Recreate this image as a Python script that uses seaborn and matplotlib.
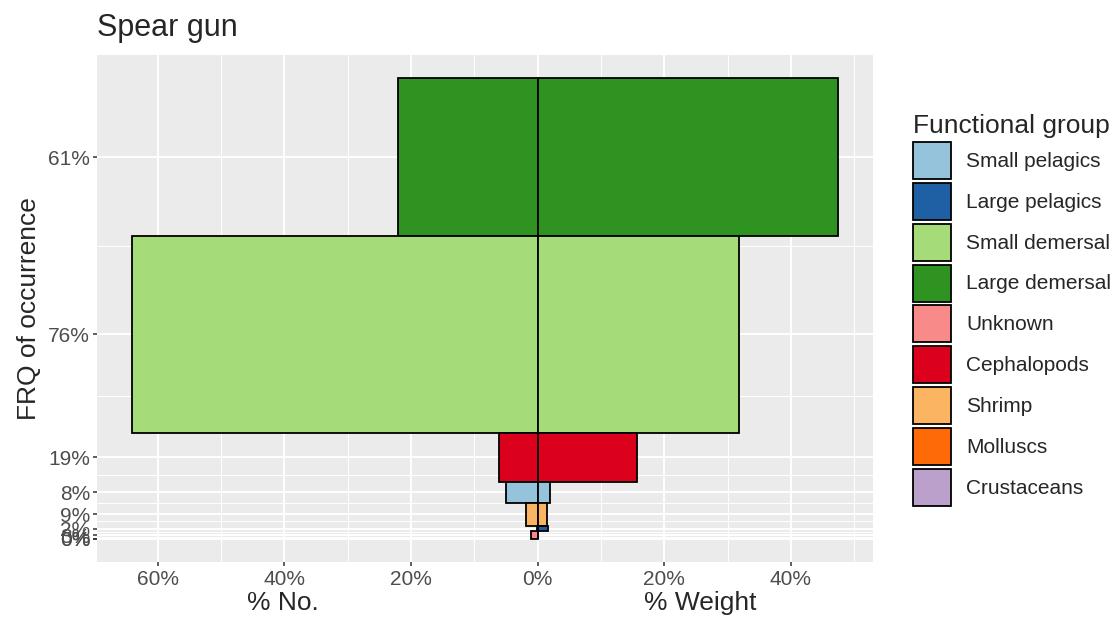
import pandas as pd
import seaborn as sns
import matplotlib
matplotlib.use('Agg')
import matplotlib.pyplot as plt
from matplotlib.patches import Patch

# legend order and colours
groups = ['Small pelagics', 'Large pelagics', 'Small demersal', 'Large demersal',
          'Unknown', 'Cephalopods', 'Shrimp', 'Molluscs', 'Crustaceans']
group_colors = ['#96C3DC', '#1F5FA3', '#A6DB7A', '#2E9321', '#F88A8A',
                '#DB001C', '#FBB462', '#FF6A09', '#BCA0CC']

# bars, top to bottom
bar_group = ['Large demersal', 'Small demersal', 'Cephalopods', 'Small pelagics',
             'Shrimp', 'Large pelagics', 'Unknown', 'Molluscs', 'Crustaceans']
frq = [61, 76, 19, 8, 9, 2, 3, 0, 0]
pct_no = [22.0, 64.0, 6.1, 5.0, 1.9, 0.1, 1.0, 0.0, 0.0]
pct_weight = [47.4, 31.8, 15.7, 2.0, 1.5, 1.6, 0.1, 0.0, 0.0]
frq_labels = ['61%', '76%', '19%', '8%', '9%', '2%', '3%', '0%', '0%']

x_ticks = [-60, -40, -20, 0, 20, 40]
x_tick_labels = ['60%', '40%', '20%', '0%', '20%', '40%']

sns.set_theme(style='darkgrid', rc={
    'axes.facecolor': '#EBEBEB',
    'grid.color': 'white',
})
plt.rcParams['font.family'] = ['Liberation Sans', 'DejaVu Sans']

df = pd.DataFrame({'group': bar_group, 'frq': frq,
                   'no': pct_no, 'weight': pct_weight})
df['ymax'] = df['frq'][::-1].cumsum()[::-1]
df['ymin'] = df['ymax'] - df['frq']
df['yc'] = (df['ymin'] + df['ymax']) / 2
pal = dict(zip(groups, group_colors))
cols = [pal[g] for g in df['group']]

fig = plt.figure(figsize=(11.15, 6.17), dpi=100)
ax = fig.add_axes([97 / 1115, 1 - 562 / 617, 776 / 1115, 507 / 617])

ax.barh(df['yc'], -df['no'], height=df['frq'], color=cols,
        edgecolor='black', linewidth=1.3, zorder=3)
ax.barh(df['yc'], df['weight'], height=df['frq'], color=cols,
        edgecolor='black', linewidth=1.3, zorder=3)

total = df['frq'].sum()
ax.set_ylim(-0.05 * total, 1.05 * total)
lo, hi = -df['no'].max(), df['weight'].max()
rng = hi - lo
ax.set_xlim(lo - 0.05 * rng, hi + 0.05 * rng)

ax.set_xticks(x_ticks)
ax.set_xticklabels(x_tick_labels)
ax.set_xticks([-50, -30, -10, 10, 30, 50], minor=True)
yc = list(df['yc'])
ax.set_yticks(yc)
ax.set_yticklabels(frq_labels)
ax.set_yticks([(a + b) / 2 for a, b in zip(yc[:-1], yc[1:])], minor=True)

ax.grid(which='major', color='white', linewidth=1.4)
ax.grid(which='minor', color='white', linewidth=0.7)
ax.set_axisbelow(True)
for s in ax.spines.values():
    s.set_visible(False)
ax.tick_params(which='major', length=3, width=1.1, color='#333333',
               labelcolor='#4D4D4D', labelsize=15, pad=3)
ax.tick_params(which='minor', length=0)
ax.tick_params(axis='x', which='major', bottom=True)
ax.tick_params(axis='y', which='major', left=True, pad=2)

ax.set_ylabel('FRQ of occurrence', fontsize=19, labelpad=5)
ax.set_xlabel('')

fig.text(97 / 1115, 1 - 36 / 617, 'Spear gun', fontsize=22,
         ha='left', va='baseline')
fig.text(283 / 1115, 1 - 603 / 617, '% No.', fontsize=19,
         ha='center', va='center')
fig.text(700 / 1115, 1 - 603 / 617, '% Weight', fontsize=19,
         ha='center', va='center')

handles = [Patch(facecolor=c, edgecolor='black', linewidth=1.3)
           for c in group_colors]
fig.legend(handles, groups, title='Functional group', loc='upper left',
           bbox_to_anchor=(905 / 1115, 1 - 106 / 617), frameon=False,
           fontsize=15, title_fontsize=19, handlelength=1.8,
           handleheight=2.36, labelspacing=0.18, handletextpad=0.75,
           alignment='left', borderaxespad=0)

fig.savefig('out.png', dpi=100)
